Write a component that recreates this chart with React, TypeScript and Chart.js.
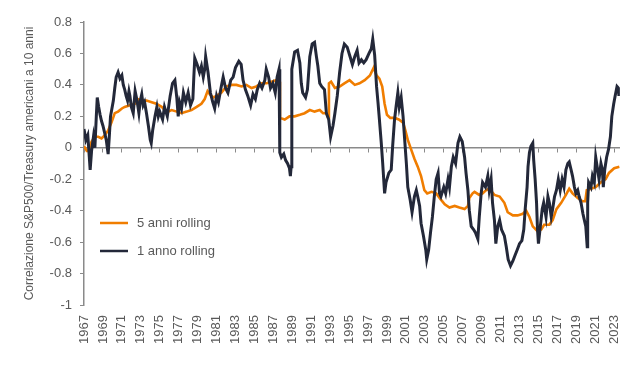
import { useEffect, useRef } from "react";
import { Chart, registerables } from "chart.js";

Chart.register(...registerables);

const FIVE_YEAR_LABEL = "5 anni rolling";
const ONE_YEAR_LABEL = "1 anno rolling";
const Y_TITLE = "Correlazione S&P500/Treasury americani a 10 anni";

const yearTicks = [
  1967, 1969, 1971, 1973, 1975, 1977, 1979, 1981, 1983, 1985, 1987, 1989, 1991, 1993, 1995,
  1997, 1999, 2001, 2003, 2005, 2007, 2009, 2011, 2013, 2015, 2017, 2019, 2021, 2023,
];

// [year, correlation]
const fiveYearRolling: [number, number][] = [
  [1967.0, 0.01], [1967.3, -0.02], [1967.5, -0.02], [1967.8, 0.04], [1968.15, 0.07], [1968.5, 0.07],
  [1968.85, 0.06], [1969.2, 0.08], [1969.55, 0.11], [1969.9, 0.16], [1970.25, 0.22], [1970.6, 0.23],
  [1971.0, 0.25], [1971.3, 0.26], [1971.85, 0.27], [1972.4, 0.28], [1972.7, 0.31], [1973.1, 0.3],
  [1973.6, 0.3], [1974.15, 0.29], [1974.65, 0.28], [1975.2, 0.26], [1975.55, 0.24], [1975.9, 0.23],
  [1976.25, 0.24], [1976.8, 0.23], [1977.3, 0.22], [1977.85, 0.23], [1978.35, 0.24], [1978.9, 0.26],
  [1979.4, 0.28], [1979.75, 0.31], [1980.05, 0.36], [1980.3, 0.34], [1980.65, 0.32], [1981.0, 0.33],
  [1981.5, 0.35], [1982.05, 0.39], [1982.6, 0.4], [1983.1, 0.4], [1983.65, 0.39], [1984.15, 0.4],
  [1984.7, 0.38], [1985.2, 0.39], [1985.75, 0.41], [1986.3, 0.41], [1986.8, 0.42], [1987.3, 0.43],
  [1987.65, 0.42], [1987.7, 0.19], [1988.2, 0.18], [1988.7, 0.2], [1989.25, 0.2], [1989.8, 0.21],
  [1990.3, 0.22], [1990.85, 0.24], [1991.35, 0.23], [1991.9, 0.24], [1992.25, 0.22], [1992.6, 0.22],
  [1992.8, 0.19], [1992.87, 0.41], [1993.1, 0.42], [1993.5, 0.38], [1994.0, 0.39], [1994.5, 0.41],
  [1995.05, 0.43], [1995.6, 0.4], [1996.1, 0.41], [1996.65, 0.43], [1997.2, 0.46], [1997.6, 0.51],
  [1997.9, 0.46], [1998.2, 0.44], [1998.5, 0.39], [1998.75, 0.28], [1999.0, 0.21], [1999.35, 0.19],
  [1999.8, 0.19], [2000.25, 0.18], [2000.7, 0.16], [2000.95, 0.11], [2001.2, 0.05], [2001.55, -0.01],
  [2001.9, -0.07], [2002.25, -0.12], [2002.6, -0.18], [2002.95, -0.27], [2003.25, -0.29], [2003.7, -0.28],
  [2004.2, -0.29], [2004.7, -0.33], [2005.1, -0.36], [2005.6, -0.38], [2006.15, -0.37], [2006.65, -0.38],
  [2007.2, -0.39], [2007.55, -0.37], [2007.7, -0.32], [2008.05, -0.29], [2008.25, -0.28], [2008.75, -0.3],
  [2009.1, -0.29], [2009.45, -0.27], [2009.8, -0.26], [2010.35, -0.3], [2010.9, -0.31], [2011.4, -0.35],
  [2011.75, -0.41], [2012.3, -0.43], [2012.8, -0.43], [2013.35, -0.42], [2013.7, -0.4], [2014.05, -0.44],
  [2014.4, -0.5], [2014.9, -0.53], [2015.3, -0.52], [2015.6, -0.49], [2016.15, -0.49], [2016.5, -0.46],
  [2016.9, -0.39], [2017.4, -0.35], [2017.9, -0.3], [2018.25, -0.26], [2018.6, -0.29], [2019.15, -0.32],
  [2019.65, -0.34], [2019.95, -0.34], [2020.1, -0.27], [2020.55, -0.26], [2021.05, -0.25], [2021.6, -0.22],
  [2022.1, -0.2], [2022.45, -0.16], [2023.0, -0.13], [2023.55, -0.12],
];

// [year, correlation]
const oneYearRolling: [number, number][] = [
  [1967.0, 0.12], [1967.2, 0.05], [1967.4, 0.08], [1967.55, -0.05], [1967.65, -0.14], [1967.8, -0.02],
  [1968.0, 0.07], [1968.15, 0.0], [1968.3, 0.2], [1968.4, 0.32], [1968.55, 0.26], [1968.7, 0.21],
  [1968.85, 0.17], [1969.0, 0.14], [1969.2, 0.09], [1969.35, 0.05], [1969.55, -0.04], [1969.65, 0.05],
  [1969.8, 0.2], [1969.95, 0.25], [1970.1, 0.3], [1970.25, 0.38], [1970.4, 0.45], [1970.6, 0.48],
  [1970.8, 0.44], [1971.0, 0.46], [1971.15, 0.4], [1971.3, 0.37], [1971.45, 0.33], [1971.6, 0.3],
  [1971.75, 0.36], [1971.85, 0.33], [1972.0, 0.26], [1972.2, 0.22], [1972.4, 0.36], [1972.6, 0.3],
  [1972.8, 0.22], [1972.95, 0.3], [1973.1, 0.34], [1973.25, 0.27], [1973.4, 0.29], [1973.6, 0.22],
  [1973.8, 0.14], [1974.0, 0.05], [1974.1, 0.03], [1974.25, 0.11], [1974.5, 0.2], [1974.7, 0.26],
  [1974.85, 0.2], [1975.0, 0.23], [1975.3, 0.18], [1975.5, 0.26], [1975.65, 0.23], [1975.8, 0.2],
  [1976.1, 0.33], [1976.35, 0.41], [1976.6, 0.43], [1976.8, 0.32], [1976.95, 0.2], [1977.1, 0.29],
  [1977.3, 0.25], [1977.5, 0.35], [1977.75, 0.29], [1978.0, 0.35], [1978.25, 0.27], [1978.5, 0.31],
  [1978.6, 0.45], [1978.7, 0.57], [1978.95, 0.53], [1979.2, 0.48], [1979.4, 0.52], [1979.6, 0.45],
  [1979.75, 0.5], [1979.85, 0.58], [1980.1, 0.48], [1980.35, 0.35], [1980.6, 0.29], [1980.8, 0.25],
  [1981.0, 0.33], [1981.2, 0.29], [1981.5, 0.39], [1981.7, 0.45], [1981.95, 0.38], [1982.2, 0.35],
  [1982.5, 0.43], [1982.75, 0.45], [1983.0, 0.51], [1983.35, 0.55], [1983.6, 0.53], [1983.8, 0.43],
  [1984.05, 0.37], [1984.3, 0.33], [1984.6, 0.27], [1984.85, 0.34], [1985.1, 0.31], [1985.3, 0.37],
  [1985.55, 0.41], [1985.8, 0.38], [1986.1, 0.43], [1986.25, 0.5], [1986.5, 0.45], [1986.7, 0.38],
  [1986.95, 0.41], [1987.2, 0.35], [1987.4, 0.45], [1987.6, 0.5], [1987.68, -0.03], [1987.85, -0.06],
  [1988.1, -0.04], [1988.3, -0.08], [1988.5, -0.1], [1988.7, -0.13], [1988.8, -0.18], [1988.88, -0.12],
  [1988.95, 0.5], [1989.25, 0.61], [1989.55, 0.62], [1989.8, 0.54], [1989.95, 0.41], [1990.1, 0.35],
  [1990.4, 0.32], [1990.6, 0.37], [1990.85, 0.58], [1991.1, 0.66], [1991.35, 0.67], [1991.55, 0.58],
  [1991.7, 0.52], [1991.9, 0.41], [1992.1, 0.39], [1992.4, 0.37], [1992.6, 0.22], [1992.85, 0.18],
  [1993.05, 0.07], [1993.3, 0.14], [1993.5, 0.22], [1993.75, 0.33], [1994.0, 0.48], [1994.25, 0.6],
  [1994.5, 0.66], [1994.8, 0.64], [1995.05, 0.59], [1995.35, 0.53], [1995.6, 0.58], [1995.85, 0.62],
  [1996.05, 0.54], [1996.3, 0.56], [1996.55, 0.54], [1996.8, 0.56], [1997.1, 0.6], [1997.35, 0.63],
  [1997.5, 0.69], [1997.7, 0.59], [1997.9, 0.39], [1998.05, 0.29], [1998.2, 0.18], [1998.4, 0.03],
  [1998.55, -0.1], [1998.75, -0.29], [1998.9, -0.22], [1999.2, -0.16], [1999.45, -0.14], [1999.6, 0.01],
  [1999.8, 0.18], [2000.0, 0.28], [2000.15, 0.35], [2000.3, 0.26], [2000.5, 0.32], [2000.7, 0.2],
  [2000.85, 0.07], [2001.05, -0.1], [2001.2, -0.25], [2001.45, -0.33], [2001.65, -0.41], [2001.9, -0.31],
  [2002.1, -0.27], [2002.25, -0.31], [2002.45, -0.37], [2002.6, -0.48], [2002.85, -0.56], [2003.1, -0.65],
  [2003.2, -0.71], [2003.4, -0.65], [2003.6, -0.54], [2003.8, -0.44], [2004.0, -0.31], [2004.2, -0.2],
  [2004.4, -0.16], [2004.55, -0.29], [2004.7, -0.31], [2005.0, -0.25], [2005.2, -0.29], [2005.45, -0.2],
  [2005.6, -0.25], [2005.8, -0.12], [2006.0, -0.06], [2006.25, -0.1], [2006.5, 0.03], [2006.7, 0.07],
  [2006.95, 0.04], [2007.2, -0.06], [2007.35, -0.16], [2007.55, -0.27], [2007.7, -0.4], [2007.9, -0.5],
  [2008.15, -0.52], [2008.35, -0.54], [2008.6, -0.58], [2008.75, -0.44], [2008.95, -0.29], [2009.1, -0.22],
  [2009.4, -0.25], [2009.65, -0.18], [2009.8, -0.27], [2010.0, -0.2], [2010.15, -0.35], [2010.35, -0.46],
  [2010.5, -0.61], [2010.7, -0.5], [2010.9, -0.46], [2011.1, -0.52], [2011.4, -0.56], [2011.6, -0.63],
  [2011.8, -0.71], [2012.05, -0.75], [2012.3, -0.72], [2012.55, -0.68], [2012.75, -0.65], [2013.0, -0.61],
  [2013.25, -0.59], [2013.45, -0.52], [2013.6, -0.39], [2013.8, -0.25], [2013.9, -0.12], [2014.05, -0.03],
  [2014.2, 0.01], [2014.4, 0.03], [2014.5, -0.08], [2014.65, -0.2], [2014.8, -0.35], [2014.9, -0.52],
  [2015.0, -0.61], [2015.2, -0.5], [2015.4, -0.39], [2015.55, -0.35], [2015.8, -0.44], [2016.0, -0.31],
  [2016.15, -0.35], [2016.35, -0.44], [2016.5, -0.39], [2016.7, -0.31], [2016.9, -0.27], [2017.1, -0.2],
  [2017.3, -0.27], [2017.5, -0.2], [2017.7, -0.25], [2017.9, -0.14], [2018.1, -0.1], [2018.25, -0.09],
  [2018.45, -0.14], [2018.6, -0.18], [2018.8, -0.25], [2018.95, -0.29], [2019.15, -0.27], [2019.3, -0.31],
  [2019.5, -0.35], [2019.7, -0.42], [2019.85, -0.46], [2020.0, -0.5], [2020.15, -0.63], [2020.2, -0.35],
  [2020.3, -0.22], [2020.55, -0.25], [2020.7, -0.18], [2020.9, -0.22], [2021.05, -0.06], [2021.25, -0.14],
  [2021.4, -0.2], [2021.6, -0.1], [2021.75, -0.14], [2021.85, -0.25], [2022.0, -0.14], [2022.2, -0.06],
  [2022.4, -0.01], [2022.6, 0.07], [2022.75, 0.2], [2022.95, 0.28], [2023.1, 0.33], [2023.3, 0.39],
  [2023.45, 0.38], [2023.5, 0.33],
];

const ORANGE = "#f07d00";
const NAVY = "#232839";
const AXIS = "#8a8a8a";
const TEXT = "#595959";
const FONT = "'Liberation Sans', Arial, sans-serif";

const insideLegend = {
  id: "insideLegend",
  afterDraw(chart: any) {
    const { ctx } = chart;
    ctx.save();
    chart.data.datasets.forEach((ds: any, i: number) => {
      const y = 223 + i * 28;
      ctx.strokeStyle = ds.borderColor;
      ctx.lineWidth = 2.5;
      ctx.beginPath();
      ctx.moveTo(100, y);
      ctx.lineTo(128, y);
      ctx.stroke();
      ctx.fillStyle = TEXT;
      ctx.font = `13px ${FONT}`;
      ctx.textBaseline = "middle";
      ctx.textAlign = "left";
      ctx.fillText(ds.label, 137, y);
    });
    ctx.restore();
  },
};

const setYearTicks = (scale: any) => {
  scale.ticks = yearTicks.map((v) => ({ value: v }));
};

export default function App() {
  const canvasRef = useRef<HTMLCanvasElement | null>(null);

  useEffect(() => {
    if (!canvasRef.current) return;
    Chart.defaults.font.family = FONT;
    const chart = new Chart(canvasRef.current, {
      type: "line",
      data: {
        datasets: [
          {
            label: FIVE_YEAR_LABEL,
            data: fiveYearRolling.map(([x, y]) => ({ x, y })),
            borderColor: ORANGE,
            borderWidth: 2.6,
            pointRadius: 0,
            tension: 0,
            order: 1,
            xAxisID: "x",
          },
          {
            label: ONE_YEAR_LABEL,
            data: oneYearRolling.map(([x, y]) => ({ x, y })),
            borderColor: NAVY,
            borderWidth: 3,
            pointRadius: 0,
            tension: 0,
            order: 0,
            xAxisID: "x",
          },
        ],
      },
      options: {
        responsive: true,
        maintainAspectRatio: false,
        animation: false,
        layout: { padding: { top: 22, right: 20, left: 0, bottom: 0 } },
        plugins: { legend: { display: false }, tooltip: { enabled: false } },
        scales: {
          x: {
            type: "linear",
            min: 1967,
            max: 2023.6,
            afterBuildTicks: setYearTicks,
            afterFit: (s: any) => {
              s.height = 62;
            },
            ticks: {
              autoSkip: false,
              minRotation: 90,
              maxRotation: 90,
              padding: 10,
              color: TEXT,
              font: { size: 13, family: FONT },
              callback: (v: any) => String(v),
            },
            grid: { display: false, drawTicks: false },
            border: { display: false },
          },
          xZero: {
            type: "linear",
            axis: "x",
            position: { y: 0 },
            min: 1967,
            max: 2023.6,
            afterBuildTicks: setYearTicks,
            ticks: { display: false },
            grid: { drawOnChartArea: false, drawTicks: true, tickLength: 4, color: AXIS },
            border: { display: true, color: AXIS, width: 1.5 },
          },
          y: {
            type: "linear",
            min: -1,
            max: 0.8,
            afterFit: (s: any) => {
              s.width = 84;
            },
            ticks: {
              stepSize: 0.2,
              padding: 8,
              color: TEXT,
              font: { size: 13, family: FONT },
              callback: (v: any) => String(Number(Number(v).toFixed(1))),
            },
            grid: { drawOnChartArea: false, drawTicks: true, tickLength: 4, color: AXIS },
            border: { display: true, color: AXIS, width: 1.5 },
            title: {
              display: true,
              text: Y_TITLE,
              color: TEXT,
              font: { size: 12, family: FONT },
              padding: { top: 22, bottom: 0 },
            },
          },
        } as any,
      },
      plugins: [insideLegend],
    });
    return () => chart.destroy();
  }, []);

  return (
    <div style={{ position: "absolute", left: 0, top: 0, width: 640, height: 367, background: "#fff" }}>
      <canvas ref={canvasRef} />
    </div>
  );
}
